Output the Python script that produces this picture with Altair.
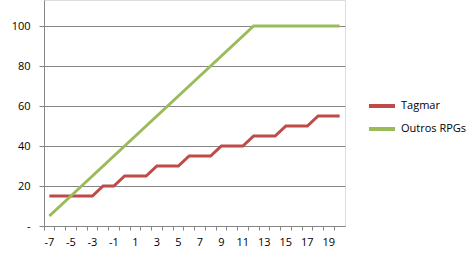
import altair as alt
import pandas as pd

x_vals = list(range(-7, 21))
tagmar = [15, 15, 15, 15, 15, 20, 20, 25, 25, 25, 30, 30, 30, 35, 35, 35,
          40, 40, 40, 45, 45, 45, 50, 50, 50, 55, 55, 55]
outros = [5, 10, 15, 20, 25, 30, 35, 40, 45, 50, 55, 60, 65, 70, 75, 80,
          85, 90, 95, 100, 100, 100, 100, 100, 100, 100, 100, 100]
series_names = ["Tagmar", "Outros RPGs"]

rows = []
for i, xv in enumerate(x_vals):
    rows.append({"x": xv, "v": tagmar[i], "s": series_names[0]})
    rows.append({"x": xv, "v": outros[i], "s": series_names[1]})
df = pd.DataFrame(rows)

font = "Open Sans"

chart = alt.Chart(df).mark_line(strokeWidth=3, strokeJoin="miter").encode(
    x=alt.X("x:O", bandPosition=0.5,
            scale=alt.Scale(type="band", domain=x_vals, paddingInner=0, paddingOuter=0),
            axis=alt.Axis(title=None, bandPosition=0, labelAngle=0,
                          labelExpr="abs(datum.value) % 2 == 1 ? datum.label : ''",
                          grid=False, tickSize=4, tickColor="#868686",
                          domainColor="#868686", labelPadding=6,
                          labelFont=font, labelFontSize=11, labelColor="#000000")),
    y=alt.Y("v:Q", scale=alt.Scale(domain=[0, 113], nice=False),
            axis=alt.Axis(title=None, values=[0, 20, 40, 60, 80, 100],
                          labelExpr="datum.value == 0 ? '-' : datum.label",
                          grid=True, gridColor="#868686", tickSize=5,
                          tickColor="#868686", domainColor="#868686",
                          labelPadding=9, labelFont=font, labelFontSize=11,
                          labelColor="#000000")),
    color=alt.Color("s:N", scale=alt.Scale(domain=series_names, range=["#BE4B48", "#9BBB59"]),
                    legend=alt.Legend(title=None, orient="none", legendX=323, legendY=91,
                                      symbolType="stroke", symbolStrokeWidth=4,
                                      symbolSize=676, labelFont=font, labelFontSize=11,
                                      labelColor="#000000", rowPadding=-2, labelOffset=4)),
).properties(
    width=301, height=226,
    autosize=alt.AutoSizeParams(type="none"),
    padding={"left": 44, "top": 0, "right": 126, "bottom": 30},
).configure_view(stroke=None).configure(background="white")

chart.save("out.html", embed_options={"renderer": "svg", "actions": False})
